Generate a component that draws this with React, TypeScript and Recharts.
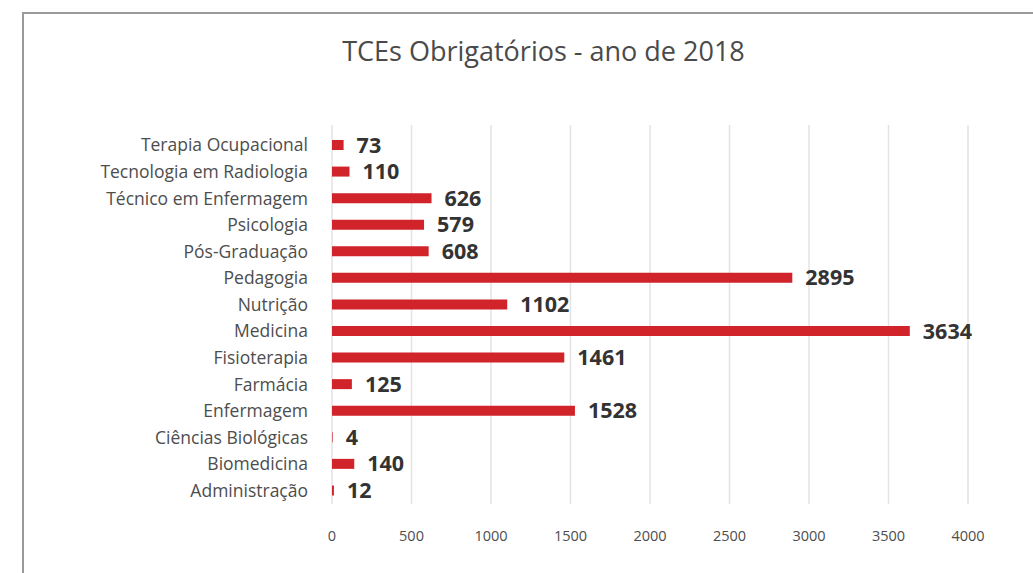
import React from 'react';
import { BarChart, Bar, XAxis, YAxis, CartesianGrid, LabelList } from 'recharts';

const categories = [
  'Terapia Ocupacional',
  'Tecnologia em Radiologia',
  'Técnico em Enfermagem',
  'Psicologia',
  'Pós-Graduação',
  'Pedagogia',
  'Nutrição',
  'Medicina',
  'Fisioterapia',
  'Farmácia',
  'Enfermagem',
  'Ciências Biológicas',
  'Biomedicina',
  'Administração',
];
const values = [73, 110, 626, 579, 608, 2895, 1102, 3634, 1461, 125, 1528, 4, 140, 12];
const xTicks = [0, 500, 1000, 1500, 2000, 2500, 3000, 3500, 4000];
const title = 'TCEs Obrigatórios - ano de 2018';

const data = categories.map((name, i) => ({ name, value: values[i] }));

const FONT = '"Open Sans", "Noto Sans", sans-serif';

export default function App() {
  return (
    <div
      style={{
        position: 'absolute',
        left: 0,
        top: 0,
        width: 1033,
        height: 573,
        overflow: 'hidden',
        background: '#fff',
        fontFamily: FONT,
      }}
    >
      <div
        style={{
          position: 'absolute',
          left: 22,
          top: 12,
          width: 1100,
          height: 700,
          border: '2px solid #9a9a9a',
        }}
      />
      <div
        style={{
          position: 'absolute',
          left: 0,
          width: 1087,
          top: 32,
          textAlign: 'center',
          fontSize: 27,
          color: '#4a4a4a',
          lineHeight: '38px',
        }}
      >
        {title}
      </div>
      <div style={{ position: 'absolute', left: 0, top: 0 }}>
        <BarChart
          width={1033}
          height={573}
          data={data}
          layout="vertical"
          margin={{ top: 125, right: 65, bottom: 39, left: 0 }}
        >
          <CartesianGrid horizontal={false} vertical={true} stroke="#e3e3e3" strokeWidth={1.5} />
          <XAxis
            type="number"
            domain={[0, 4000]}
            ticks={xTicks}
            height={30}
            axisLine={false}
            tickLine={false}
            tickSize={0}
            tickMargin={27}
            interval={0}
            tick={{ fontSize: 14.5, fill: '#4d4d4d', fontFamily: FONT }}
          />
          <YAxis
            type="category"
            dataKey="name"
            width={332}
            axisLine={false}
            tickLine={false}
            tickSize={0}
            tickMargin={24}
            interval={0}
            padding={{ top: 7, bottom: 0 }}
            tick={{ fontSize: 17.5, fill: '#4d4d4d', fontFamily: FONT }}
          />
          <Bar dataKey="value" fill="#d0232a" barSize={10} isAnimationActive={false}>
            <LabelList
              dataKey="value"
              position="right"
              offset={13}
              style={{ fontSize: 21.5, fontWeight: 700, fill: '#333', fontFamily: FONT }}
            />
          </Bar>
        </BarChart>
      </div>
    </div>
  );
}
